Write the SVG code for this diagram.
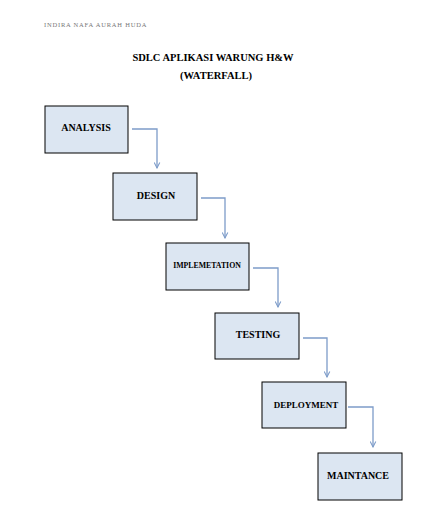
<svg xmlns="http://www.w3.org/2000/svg" width="429" height="522" viewBox="0 0 429 522">
<defs>
<style>
.box{fill:#dce6f2;stroke:#000;stroke-width:1}
.lbl{font-family:"Liberation Serif",serif;font-weight:bold;font-size:10px;fill:#000;text-anchor:middle}
.con{fill:none;stroke:#7d9cc9;stroke-width:1.3}
.ttl{font-family:"Liberation Serif",serif;font-weight:bold;font-size:10.5px;fill:#000;text-anchor:middle}
</style>
<marker id="ah" viewBox="0 0 10 10" refX="9" refY="5" markerWidth="7" markerHeight="7" orient="auto" markerUnits="userSpaceOnUse">
<path d="M1,1 L9,5 L1,9" fill="none" stroke="#7d9cc9" stroke-width="1.5"/>
</marker>
</defs>
<rect width="429" height="522" fill="#fff"/>
<text x="44" y="27" font-family="Liberation Serif,serif" font-size="6.5" fill="#777" letter-spacing="0.8">INDIRA NAFA AURAH HUDA</text>
<text class="ttl" x="213" y="61">SDLC APLIKASI WARUNG  H&amp;W</text>
<text class="ttl" x="216" y="79">(WATERFALL)</text>
<g id="analysis"><rect class="box" x="45" y="106" width="83" height="47"/><text class="lbl" x="86" y="131">ANALYSIS</text></g>
<g id="design"><rect class="box" x="113" y="173" width="84" height="47"/><text class="lbl" x="156" y="199">DESIGN</text></g>
<g id="implementation"><rect class="box" x="166" y="243" width="83" height="47"/><text class="lbl" x="207" y="268" style="font-size:7.8px">IMPLEMETATION</text></g>
<g id="testing"><rect class="box" x="215" y="313" width="84" height="46"/><text class="lbl" x="258" y="338">TESTING</text></g>
<g id="deployment"><rect class="box" x="262" y="382" width="84" height="46"/><text class="lbl" x="306" y="408" style="font-size:9px">DEPLOYMENT</text></g>
<g id="maintance"><rect class="box" x="318" y="453" width="84" height="47"/><text class="lbl" x="358" y="479">MAINTANCE</text></g>
<g id="connectors">
<path class="con" d="M132,129 H157 V168" marker-end="url(#ah)"/>
<path class="con" d="M201,198 H225 V238" marker-end="url(#ah)"/>
<path class="con" d="M253,268 H278 V307" marker-end="url(#ah)"/>
<path class="con" d="M303,338 H327 V377" marker-end="url(#ah)"/>
<path class="con" d="M348,407 H373 V447" marker-end="url(#ah)"/>
</g>
</svg>
